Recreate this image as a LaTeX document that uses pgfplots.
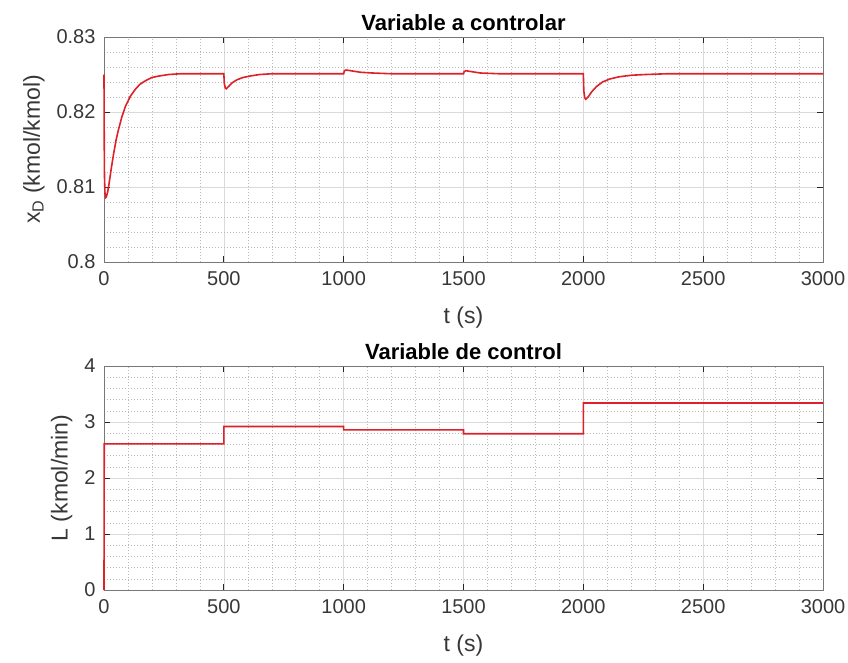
\documentclass[border=0pt]{standalone}
\usepackage{fontspec}
\setmainfont{Liberation Sans}
\usepackage{pgfplots}
\pgfplotsset{compat=1.18}
\definecolor{mred}{RGB}{222,32,40}
\definecolor{gridmaj}{RGB}{218,218,218}
\definecolor{gridmin}{RGB}{185,185,185}
\definecolor{axgray}{RGB}{120,120,120}
\definecolor{txtgray}{RGB}{55,55,55}
\pgfplotsset{
  mlab/.style={
    scale only axis, width=719pt,
    xmin=0, xmax=3000, xtick={0,500,...,3000}, minor x tick num=4,
    grid=both,
    major grid style={gridmaj, line width=0.6pt},
    minor grid style={gridmin, line width=0.5pt, dash pattern=on 0.8pt off 2.2pt},
    axis line style={axgray, line width=0.9pt},
    tick style={black!85, line width=0.8pt},
    tick align=inside, major tick length=6pt, minor tick length=0pt,
    ticklabel style={font=\fontsize{20}{22}\selectfont, text=txtgray},
    xticklabel style={/pgf/number format/1000 sep={}, yshift=-6pt},
    yticklabel style={xshift=-5pt},
    label style={font=\fontsize{23}{26}\selectfont, text=txtgray},
    title style={font=\fontsize{22}{25}\selectfont\bfseries, yshift=-3pt},
    /pgf/number format/assume math mode=true,
    scaled ticks=false,
    clip=false,
    xlabel={t (s)},
    xlabel style={yshift=-14pt},
    ylabel style={yshift=5pt},
  }
}
\begin{document}
\begin{tikzpicture}[x=1pt,y=1pt]
\useasboundingbox (0,0) rectangle (848,-662);
\begin{axis}[mlab, at={(104pt,-262pt)}, anchor=south west, height=225pt,
  ymin=0.8, ymax=0.83, ytick={0.8,0.81,0.82,0.83},
  yticklabels={0.8,0.81,0.82,0.83}, minor y tick num=4,
  title={Variable a controlar},
  ylabel={x\textsubscript{D} (kmol/kmol)}]
\addplot[mred, line width=1.6pt, mark=none] coordinates {
(0,0.8250) (1,0.8160) (2,0.8115) (4,0.8092) (7,0.8086) (10,0.8087)
(15,0.8093) (20,0.8102) (30,0.8124) (40,0.8144) (50,0.8162) (60,0.8176)
(75,0.8194) (90,0.8208) (110,0.8221) (130,0.8230) (150,0.8237) (175,0.8242)
(200,0.8246) (230,0.8248) (270,0.8250) (320,0.8251) (500,0.8251)
(502,0.8238) (506,0.8232) (510,0.8231) (520,0.8234) (535,0.8239)
(555,0.8243) (580,0.8246) (610,0.8248) (650,0.8250) (700,0.8251)
(1000,0.8251) (1003,0.8255) (1010,0.8256) (1030,0.8255) (1070,0.8253)
(1120,0.8252) (1200,0.8251) (1500,0.8251) (1503,0.8254) (1510,0.8255)
(1530,0.8254) (1570,0.8252) (1650,0.8251) (2000,0.8251)
(2002,0.8228) (2006,0.8219) (2010,0.8217) (2020,0.8220) (2035,0.8227)
(2055,0.8234) (2080,0.8240) (2110,0.8244) (2150,0.8247) (2200,0.8249)
(2260,0.8250) (2350,0.8251) (3000,0.8251)
};
\end{axis}
\begin{axis}[mlab, at={(104pt,-590pt)}, anchor=south west, height=224pt,
  ymin=0, ymax=4, ytick={0,1,2,3,4}, minor y tick num=4,
  title={Variable de control},
  ylabel={L (kmol/min)}]
\addplot[mred, line width=1.6pt, mark=none] coordinates {
(0,0) (1,2.61) (500,2.61) (500,2.92) (1000,2.92) (1000,2.86)
(1500,2.86) (1500,2.79) (2000,2.79) (2000,3.34) (3000,3.34)
};
\end{axis}
\end{tikzpicture}
\end{document}
